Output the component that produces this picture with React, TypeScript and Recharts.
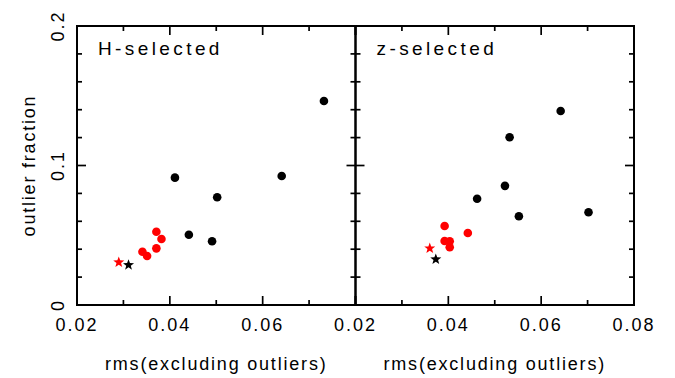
import React from 'react';
import { ScatterChart, Scatter, XAxis, YAxis, ReferenceArea, Label } from 'recharts';

// ---- data ----
const hBlackX = [0.0411, 0.0441, 0.0491, 0.0502, 0.0641, 0.0732];
const hBlackY = [0.0913, 0.0504, 0.0457, 0.0772, 0.0925, 0.1462];
const hRedX = [0.0341, 0.0351, 0.0371, 0.0371, 0.0382];
const hRedY = [0.0382, 0.0351, 0.0525, 0.0406, 0.0473];
const hRedStarX = [0.029];
const hRedStarY = [0.0306];
const hBlackStarX = [0.0311];
const hBlackStarY = [0.0287];

const zBlackX = [0.0462, 0.0522, 0.0532, 0.0552, 0.0642, 0.0702];
const zBlackY = [0.0762, 0.0854, 0.1202, 0.0636, 0.1391, 0.0665];
const zRedX = [0.0392, 0.0392, 0.0403, 0.0403, 0.0442];
const zRedY = [0.0566, 0.0459, 0.0457, 0.0414, 0.0516];
const zRedStarX = [0.036];
const zRedStarY = [0.0406];
const zBlackStarX = [0.0373];
const zBlackStarY = [0.0328];

const xMajorTicks = [0.02, 0.04, 0.06, 0.08];
const xMinorTicks = [0.03, 0.05, 0.07];
const yMajorTicks = [0, 0.1, 0.2];
const yMinorTicks = [0.02, 0.04, 0.06, 0.08, 0.12, 0.14, 0.16, 0.18];
const xLabelsLeft = ['0.02', '0.04', '0.06', ''];
const xLabelsRight = ['0.02', '0.04', '0.06', '0.08'];
const yLabels = ['0', '0.1', '0.2'];

const panelTitles = ['H-selected', 'z-selected'];
const xTitle = 'rms(excluding outliers)';
const yTitle = 'outlier fraction';

// ---- layout ----
const PLOT_W = 278.5;
const PLOT_H = 279;
const TOP = 26;
const H = 378;
const FONT = '"Liberation Sans", Arial, Helvetica, sans-serif';
const MAJOR_LEN = 9;
const MINOR_LEN = 5;
const TICK_W = 1.7;

const zip = (xs: number[], ys: number[]) => xs.map((x, i) => ({ x, y: ys[i] }));
const near = (a: number, b: number) => Math.abs(a - b) < 1e-9;

const Dot = (color: string) => (props: any) => {
  const { cx, cy } = props;
  if (cx == null || cy == null) return <g />;
  return <circle cx={cx} cy={cy} r={4.3} fill={color} stroke="none" />;
};

const Star = (color: string) => (props: any) => {
  const { cx, cy } = props;
  if (cx == null || cy == null) return <g />;
  const R = 5.8;
  const r = 2.4;
  const pts: string[] = [];
  for (let i = 0; i < 10; i++) {
    const a = -Math.PI / 2 + (i * Math.PI) / 5;
    const rr = i % 2 === 0 ? R : r;
    pts.push(`${(cx + rr * Math.cos(a)).toFixed(2)},${(cy + rr * Math.sin(a)).toFixed(2)}`);
  }
  return <polygon points={pts.join(' ')} fill={color} stroke="none" />;
};

const makeXTick = (labels: string[]) => (props: any) => {
  const { x, y, payload } = props;
  const v = payload.value;
  const mi = xMajorTicks.findIndex((t) => near(t, v));
  const len = mi >= 0 ? MAJOR_LEN : MINOR_LEN;
  const label = mi >= 0 ? labels[mi] : '';
  return (
    <g>
      <line x1={x} y1={y} x2={x} y2={y - len} stroke="#000" strokeWidth={TICK_W} />
      <line x1={x} y1={y - PLOT_H} x2={x} y2={y - PLOT_H + len} stroke="#000" strokeWidth={TICK_W} />
      {label ? (
        <text x={x} y={y + 25.5} textAnchor="middle" fontFamily={FONT} fontSize={18} letterSpacing={2} fill="#000">
          {label}
        </text>
      ) : null}
    </g>
  );
};

const makeYTick = (showLabels: boolean) => (props: any) => {
  const { x, y, payload } = props;
  const v = payload.value;
  const mi = yMajorTicks.findIndex((t) => near(t, v));
  const len = mi >= 0 ? MAJOR_LEN : MINOR_LEN;
  const label = mi >= 0 && showLabels ? yLabels[mi] : '';
  const lx = x - 13;
  return (
    <g>
      <line x1={x} y1={y} x2={x + len} y2={y} stroke="#000" strokeWidth={TICK_W} />
      <line x1={x + PLOT_W} y1={y} x2={x + PLOT_W - len} y2={y} stroke="#000" strokeWidth={TICK_W} />
      {label ? (
        <text
          x={lx}
          y={y}
          transform={`rotate(-90, ${lx}, ${y})`}
          textAnchor="middle"
          fontFamily={FONT}
          fontSize={18}
          letterSpacing={2}
          fill="#000"
        >
          {label}
        </text>
      ) : null}
    </g>
  );
};

const xTicks = [...xMajorTicks, ...xMinorTicks].sort((a, b) => a - b);
const yTicks = [...yMajorTicks, ...yMinorTicks].sort((a, b) => a - b);

type PanelProps = {
  left: number;
  width: number;
  yAxisWidth: number;
  title: string;
  xLabels: string[];
  showYLabels: boolean;
  black: { x: number; y: number }[];
  red: { x: number; y: number }[];
  redStar: { x: number; y: number }[];
  blackStar: { x: number; y: number }[];
};

const Panel = (p: PanelProps) => {
  const rightMargin = p.width - p.yAxisWidth - PLOT_W;
  return (
    <div style={{ position: 'absolute', left: p.left, top: 0 }}>
      <ScatterChart width={p.width} height={H} margin={{ top: TOP, right: rightMargin, bottom: 0, left: 0 }}>
        <XAxis
          type="number"
          dataKey="x"
          domain={[0.02, 0.08]}
          ticks={xTicks}
          interval={0}
          allowDataOverflow
          height={H - TOP - PLOT_H}
          tickSize={0}
          tickMargin={0}
          tickLine={false}
          axisLine={false}
          tick={makeXTick(p.xLabels)}
        >
          <Label
            content={(lp: any) => {
              const vb = lp.viewBox || {};
              return (
                <text
                  x={vb.x + vb.width / 2}
                  y={vb.y + 65}
                  textAnchor="middle"
                  fontFamily={FONT}
                  fontSize={18}
                  letterSpacing={1.8}
                  fill="#000"
                >
                  {xTitle}
                </text>
              );
            }}
          />
        </XAxis>
        <YAxis
          type="number"
          dataKey="y"
          domain={[0, 0.2]}
          ticks={yTicks}
          interval={0}
          allowDataOverflow
          width={p.yAxisWidth}
          tickSize={0}
          tickMargin={0}
          tickLine={false}
          axisLine={false}
          tick={makeYTick(p.showYLabels)}
        >
          {p.showYLabels ? (
            <Label
              content={(lp: any) => {
                const vb = lp.viewBox || {};
                const lx = 35;
                const ly = vb.y + vb.height / 2;
                return (
                  <text
                    x={lx}
                    y={ly}
                    transform={`rotate(-90, ${lx}, ${ly})`}
                    textAnchor="middle"
                    fontFamily={FONT}
                    fontSize={18}
                    letterSpacing={1.8}
                    fill="#000"
                  >
                    {yTitle}
                  </text>
                );
              }}
            />
          ) : null}
        </YAxis>
        <ReferenceArea
          x1={0.02}
          x2={0.08}
          y1={0}
          y2={0.2}
          fill="none"
          fillOpacity={0}
          stroke="#000"
          strokeWidth={2}
          ifOverflow="visible"
          label={(lp: any) => {
            const vb = lp.viewBox || {};
            return (
              <text x={vb.x + 21} y={vb.y + 29} fontFamily={FONT} fontSize={19} letterSpacing={3.4} fill="#000">
                {p.title}
              </text>
            );
          }}
        />
        <Scatter data={p.black} shape={Dot('#000000')} isAnimationActive={false} />
        <Scatter data={p.red} shape={Dot('#ff0000')} isAnimationActive={false} />
        <Scatter data={p.redStar} shape={Star('#ff0000')} isAnimationActive={false} />
        <Scatter data={p.blackStar} shape={Star('#000000')} isAnimationActive={false} />
      </ScatterChart>
    </div>
  );
};

export default function App() {
  return (
    <div style={{ position: 'absolute', left: 0, top: 0, width: 675, height: H, background: '#fff' }}>
      <Panel
        left={0}
        width={360}
        yAxisWidth={77}
        title={panelTitles[0]}
        xLabels={xLabelsLeft}
        showYLabels={true}
        black={zip(hBlackX, hBlackY)}
        red={zip(hRedX, hRedY)}
        redStar={zip(hRedStarX, hRedStarY)}
        blackStar={zip(hBlackStarX, hBlackStarY)}
      />
      <Panel
        left={300}
        width={375}
        yAxisWidth={55.5}
        title={panelTitles[1]}
        xLabels={xLabelsRight}
        showYLabels={false}
        black={zip(zBlackX, zBlackY)}
        red={zip(zRedX, zRedY)}
        redStar={zip(zRedStarX, zRedStarY)}
        blackStar={zip(zBlackStarX, zBlackStarY)}
      />
    </div>
  );
}
